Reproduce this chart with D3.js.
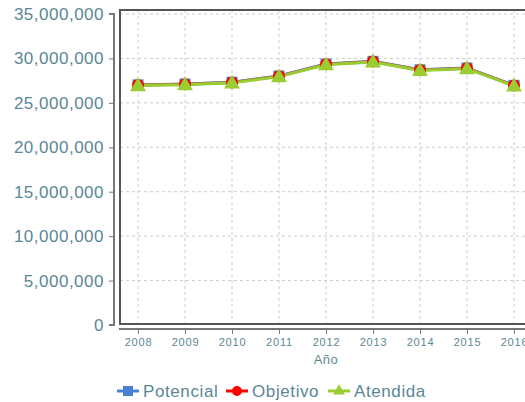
<!DOCTYPE html>
<html>
<head>
<meta charset="utf-8">
<script src="https://d3js.org/d3.v7.min.js"></script>
<style>
  body { margin: 0; background: #fff; }
  text { font-family: "Liberation Sans", Arial, sans-serif; fill: #5b8795; }
</style>
</head>
<body>
<div id="chart"></div>
<script>
// data (millions)
var years = [2008, 2009, 2010, 2011, 2012, 2013, 2014, 2015, 2016];
var potencial = [27.02, 27.12, 27.32, 28.02, 29.37, 29.67, 28.72, 28.92, 26.97];
var objetivo  = [27.0, 27.1, 27.3, 28.0, 29.35, 29.65, 28.7, 28.9, 26.95];
var atendida  = [26.95, 27.05, 27.25, 27.95, 29.3, 29.6, 28.65, 28.85, 26.9];
var yTickValues = [0, 5, 10, 15, 20, 25, 30, 35];
var seriesNames = ["Potencial", "Objetivo", "Atendida"];

var width = 525, height = 402;
var boxLeft = 120, boxTop = 10, boxBottom = 324;

var svg = d3.select("#chart").append("svg")
    .attr("width", width)
    .attr("height", height);

var x = d3.scaleLinear()
    .domain([2008, 2016])
    .range([138, 514]);

var y = d3.scaleLinear()
    .domain([0, 35])
    .range([325, 14]);

// grid
svg.append("g").selectAll("line")
    .data(yTickValues.slice(1))
    .enter().append("line")
    .attr("x1", boxLeft).attr("x2", width)
    .attr("y1", d => y(d)).attr("y2", d => y(d))
    .style("stroke", "#ccc").style("stroke-dasharray", "3,3");

svg.append("g").selectAll("line")
    .data(years)
    .enter().append("line")
    .attr("x1", d => x(d)).attr("x2", d => x(d))
    .attr("y1", boxTop).attr("y2", boxBottom)
    .style("stroke", "#ccc").style("stroke-dasharray", "3,3");

// frame
svg.append("path")
    .attr("d", "M" + width + "," + boxTop + "H" + boxLeft + "V" + boxBottom + "H" + width)
    .style("fill", "none").style("stroke", "#555").style("stroke-width", 2);

// y axis (offset left)
var yAxis = svg.append("g")
    .attr("transform", "translate(114,0)")
    .call(d3.axisLeft(y).tickValues(yTickValues).tickSize(5).tickPadding(5)
        .tickFormat(d => d3.format(",")(d * 1000000)));
yAxis.select(".domain").style("stroke", "#777").style("stroke-width", 2)
    .attr("d", "M-5," + y(35) + "H0V" + y(0) + "H-5");
yAxis.selectAll(".tick line").style("stroke", "#777");
yAxis.selectAll("text").style("font-size", "17px").style("letter-spacing", "0.5px").style("fill", "#5b8795");

// x axis (offset down)
var xAxis = svg.append("g")
    .attr("transform", "translate(0,329)")
    .call(d3.axisBottom(x).tickValues(years).tickSize(5).tickPadding(4).tickFormat(d3.format("d")));
xAxis.select(".domain").style("stroke", "#777").style("stroke-width", 2)
    .attr("d", "M119,0H" + width);
xAxis.selectAll(".tick line").style("stroke", "#777");
xAxis.selectAll("text").style("font-size", "11px").style("letter-spacing", "0.8px").style("fill", "#5b8795");

svg.append("text")
    .attr("x", x(2012)).attr("y", 364)
    .attr("text-anchor", "middle")
    .style("font-size", "13px").style("letter-spacing", "0.5px")
    .text("Año");

// series
var line = d3.line()
    .x((d, i) => x(years[i]))
    .y(d => y(d));

var colors = ["#4a7fd4", "#ff0000", "#9acd32"];
var allSeries = [potencial, objetivo, atendida];

allSeries.forEach(function(s, k) {
    svg.append("path")
        .datum(s)
        .attr("d", line)
        .style("fill", "none")
        .style("stroke", k === 1 ? "#b5653a" : colors[k])
        .style("stroke-width", 3);
});

// markers
svg.append("g").selectAll("rect")
    .data(potencial)
    .enter().append("rect")
    .attr("x", (d, i) => x(years[i]) - 5.5)
    .attr("y", d => y(d) - 5.5)
    .attr("width", 11).attr("height", 11)
    .style("fill", colors[0]);

svg.append("g").selectAll("circle")
    .data(objetivo)
    .enter().append("circle")
    .attr("cx", (d, i) => x(years[i]))
    .attr("cy", d => y(d))
    .attr("r", 6)
    .style("fill", colors[1]);

var tri = d3.symbol().type(d3.symbolTriangle).size(110);
svg.append("g").selectAll("path")
    .data(atendida)
    .enter().append("path")
    .attr("d", tri)
    .attr("transform", (d, i) => "translate(" + x(years[i]) + "," + (y(d) + 1) + ")")
    .style("fill", colors[2]);

// legend
var legendX = [117, 226, 328];
var legend = svg.append("g");
seriesNames.forEach(function(name, k) {
    var g = legend.append("g").attr("transform", "translate(" + legendX[k] + ",391)");
    g.append("line").attr("x1", 0).attr("x2", 22).attr("y1", 0).attr("y2", 0)
        .style("stroke", colors[k]).style("stroke-width", 3);
    if (k === 0) {
        g.append("rect").attr("x", 6).attr("y", -5).attr("width", 10).attr("height", 10).style("fill", colors[k]);
    } else if (k === 1) {
        g.append("circle").attr("cx", 11).attr("cy", 0).attr("r", 5).style("fill", colors[k]);
    } else {
        g.append("path").attr("d", d3.symbol().type(d3.symbolTriangle).size(60))
            .attr("transform", "translate(11,0)").style("fill", colors[k]);
    }
    g.append("text").attr("x", 26).attr("y", 6)
        .style("font-size", "17px").style("letter-spacing", "0.6px")
        .text(name);
});
</script>
</body>
</html>
